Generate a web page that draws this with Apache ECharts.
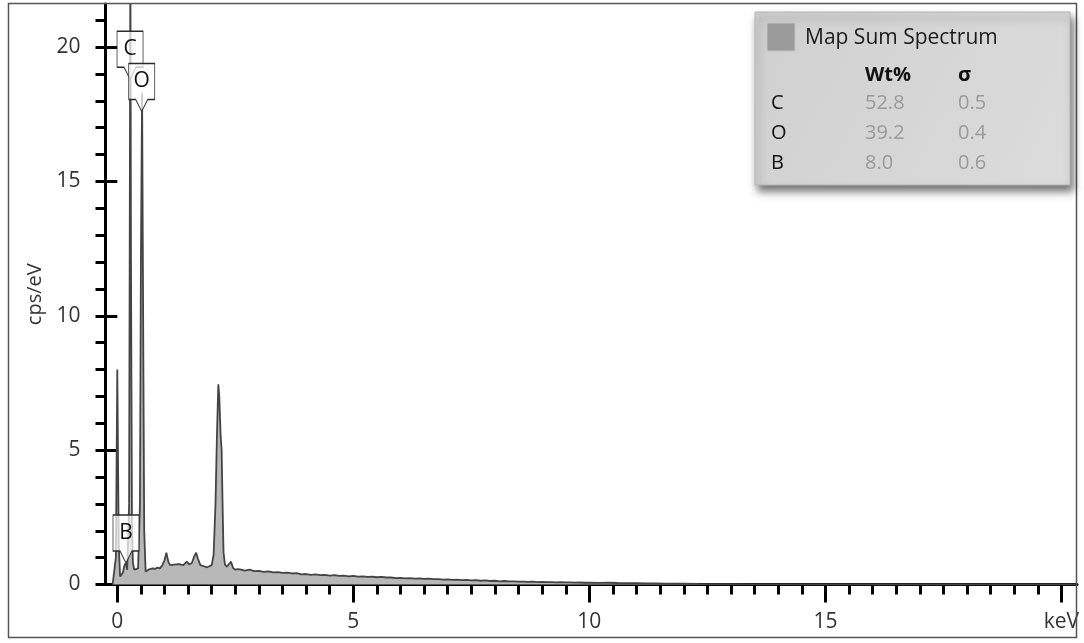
<!DOCTYPE html>
<html>
<head>
<meta charset="utf-8">
<title>Map Sum Spectrum</title>
<script src="https://cdn.jsdelivr.net/npm/echarts@6/dist/echarts.min.js"></script>
<style>
  html, body { margin: 0; padding: 0; background: #fff; }
  #chart { width: 1084px; height: 643px; }
</style>
</head>
<body>
<div id="chart"></div>
<script>
// spectrum (keV, cps/eV)
const energies = [
  -0.1, -0.06, -0.03, 0.0, 0.03, 0.06, 0.09, 0.12, 0.15, 0.18, 0.21, 0.23,
  0.25, 0.265, 0.277, 0.29, 0.31, 0.33, 0.36, 0.40, 0.44, 0.48, 0.50, 0.525,
  0.55, 0.57, 0.60, 0.63, 0.66, 0.70, 0.75, 0.80, 0.85, 0.90, 0.95, 1.00,
  1.04, 1.08, 1.12, 1.20, 1.30, 1.40, 1.47, 1.52, 1.58, 1.63, 1.67, 1.71,
  1.76, 1.80, 1.85, 1.90, 1.95, 2.00, 2.04, 2.08, 2.11, 2.14, 2.16, 2.19,
  2.21, 2.23, 2.25, 2.28, 2.32, 2.36, 2.41, 2.45, 2.50, 2.55,
  2.6, 2.7, 2.8, 2.9, 3.0, 3.1, 3.2, 3.3, 3.4, 3.5, 3.6, 3.7, 3.8, 3.9,
  4.0, 4.1, 4.2, 4.3, 4.4, 4.5, 4.6, 4.7, 4.8, 4.9, 5.0, 5.1, 5.2, 5.3,
  5.4, 5.5, 5.6, 5.7, 5.8, 5.9, 6.0, 6.1, 6.2, 6.3, 6.4, 6.5, 6.6, 6.7,
  6.8, 6.9, 7.0, 7.1, 7.2, 7.3, 7.4, 7.5, 7.6, 7.7, 7.8, 7.9, 8.0, 8.1,
  8.2, 8.3, 8.4, 8.5, 8.6, 8.7, 8.8, 8.9, 9.0, 9.1, 9.2, 9.3, 9.4, 9.5,
  9.6, 9.7, 9.8, 9.9, 10.0, 10.2, 10.4, 10.6, 10.8, 11.0, 11.2, 11.4,
  11.6, 11.8, 12.0, 12.3, 12.6, 13.0, 13.5, 14.0, 15.0, 20.3
];
const counts = [
  0, 0.05, 1.0, 8.0, 1.5, 0.3, 0.25, 0.45, 0.7, 0.8, 0.55, 0.5,
  3.0, 14.0, 24.0, 12.0, 2.5, 0.8, 0.55, 0.5, 0.6, 3.0, 12.0, 18.3,
  9.0, 2.0, 0.48, 0.5, 0.55, 0.56, 0.6, 0.58, 0.63, 0.6, 0.7, 0.9,
  1.18, 0.85, 0.72, 0.74, 0.76, 0.72, 0.85, 0.75, 0.8, 1.05, 1.18, 0.95,
  0.72, 0.66, 0.67, 0.64, 0.68, 0.72, 1.1, 3.0, 5.5, 7.45, 7.0, 5.5,
  5.0, 3.0, 1.2, 0.75, 0.66, 0.7, 0.85, 0.62, 0.55, 0.57,
  0.56, 0.52, 0.55, 0.50, 0.51, 0.47, 0.49, 0.45, 0.46, 0.43, 0.44, 0.41, 0.42, 0.38,
  0.39, 0.36, 0.38, 0.35, 0.36, 0.33, 0.35, 0.32, 0.33, 0.30, 0.32, 0.29, 0.30, 0.28,
  0.29, 0.27, 0.28, 0.26, 0.26, 0.24, 0.25, 0.23, 0.24, 0.22, 0.23, 0.21, 0.22, 0.20,
  0.20, 0.18, 0.19, 0.17, 0.18, 0.16, 0.17, 0.15, 0.16, 0.14, 0.15, 0.13, 0.14, 0.12,
  0.13, 0.12, 0.12, 0.11, 0.11, 0.10, 0.11, 0.09, 0.10, 0.09, 0.09, 0.08, 0.09, 0.08,
  0.08, 0.07, 0.075, 0.065, 0.07, 0.06, 0.065, 0.055, 0.05, 0.05, 0.045, 0.04,
  0.035, 0.03, 0.03, 0.02, 0.015, 0.01, 0.005, 0.003, 0, 0
];

// axis ticks
const xMinorTicks = [];
for (let v = 0; v <= 20; v += 0.5) xMinorTicks.push(v);
const xMajorTicks = [0, 5, 10, 15, 20];
const yMinorTicks = [];
for (let v = 0; v <= 21; v += 1) yMinorTicks.push(v);
const yMajorTicks = [0, 5, 10, 15, 20];

// element markers
const peakNames = ['C', 'O', 'B'];
const peakEnergy = [0.27, 0.517, 0.184];
const peakTipY = [18.8, 17.6, 0.8];

// quantification table
const seriesName = 'Map Sum Spectrum';
const elements = ['C', 'O', 'B'];
const wtPct = ['52.8', '39.2', '8.0'];
const sigma = ['0.5', '0.4', '0.6'];

const FONT = '"Open Sans", "Noto Sans", sans-serif';
const chart = echarts.init(document.getElementById('chart'));

const legendBox = [
  {
    type: 'rect',
    shape: { x: 755, y: 12, width: 315, height: 173 },
    style: {
      fill: new echarts.graphic.LinearGradient(0, 0, 1, 1, [
        { offset: 0, color: '#d0d0d0' },
        { offset: 1, color: '#dcdcdc' }
      ]),
      stroke: '#b4b4b4',
      lineWidth: 1,
      shadowBlur: 8,
      shadowOffsetX: 3,
      shadowOffsetY: 6,
      shadowColor: 'rgba(0,0,0,0.55)'
    },
    z: 10
  },
  {
    type: 'rect',
    shape: { x: 767, y: 23, width: 28, height: 28 },
    style: { fill: '#9b9b9b', stroke: '#c4c4c4', lineWidth: 1 },
    z: 11
  },
  {
    type: 'text', x: 805, y: 38, z: 11,
    style: { text: seriesName, fill: '#1a1a1a', font: '21px ' + FONT, verticalAlign: 'middle' }
  },
  {
    type: 'text', x: 865, y: 75, z: 11,
    style: { text: 'Wt%', fill: '#111', font: 'bold 20px ' + FONT, verticalAlign: 'middle' }
  },
  {
    type: 'text', x: 958, y: 75, z: 11,
    style: { text: 'σ', fill: '#111', font: 'bold 20px ' + FONT, verticalAlign: 'middle' }
  }
];
elements.forEach((el, i) => {
  const y = 103 + i * 30;
  legendBox.push(
    { type: 'text', x: 771, y: y, z: 11,
      style: { text: el, fill: '#111', font: '20px ' + FONT, verticalAlign: 'middle' } },
    { type: 'text', x: 865, y: y, z: 11,
      style: { text: wtPct[i], fill: '#9a9a9a', font: '20px ' + FONT, verticalAlign: 'middle' } },
    { type: 'text', x: 958, y: y, z: 11,
      style: { text: sigma[i], fill: '#9a9a9a', font: '20px ' + FONT, verticalAlign: 'middle' } }
  );
});

const option = {
  animation: false,
  backgroundColor: '#fff',
  textStyle: { fontFamily: FONT },
  grid: { left: 105.5, right: 7, top: 4, bottom: 58.5 },
  xAxis: [
    {
      type: 'value', min: -0.25, max: 20.33,
      axisLine: { show: true, onZero: false, lineStyle: { color: '#000', width: 3 } },
      axisTick: { show: true, customValues: xMinorTicks, length: 10, lineStyle: { color: '#000', width: 3 } },
      axisLabel: { show: false },
      splitLine: { show: false }
    },
    {
      type: 'value', min: -0.25, max: 20.33, position: 'bottom',
      axisLine: { show: false },
      axisTick: { show: true, customValues: xMajorTicks, length: 18, lineStyle: { color: '#000', width: 3 } },
      axisLabel: {
        show: true, customValues: xMajorTicks, margin: 27,
        color: '#333', fontSize: 21, fontFamily: FONT,
        formatter: v => (v === 20 ? 'keV' : String(v))
      },
      splitLine: { show: false }
    }
  ],
  yAxis: [
    {
      type: 'value', min: 0, max: 21.6,
      axisLine: { show: true, onZero: false, lineStyle: { color: '#000', width: 3 } },
      axisTick: { show: true, customValues: yMinorTicks, length: 10, lineStyle: { color: '#000', width: 3 } },
      axisLabel: { show: false },
      splitLine: { show: false }
    },
    {
      type: 'value', min: 0, max: 21.6, position: 'left',
      name: 'cps/eV', nameLocation: 'middle', nameGap: 52,
      nameTextStyle: { color: '#333', fontSize: 20, fontFamily: FONT },
      axisLine: { show: false },
      axisTick: { show: true, customValues: yMajorTicks, length: 20, lineStyle: { color: '#000', width: 3 } },
      axisLabel: { show: true, customValues: yMajorTicks, margin: 25, color: '#333', fontSize: 21, fontFamily: FONT },
      splitLine: { show: false }
    }
  ],
  series: [
    {
      name: seriesName,
      type: 'line',
      xAxisIndex: 0,
      yAxisIndex: 0,
      data: energies.map((e, i) => [e, counts[i]]),
      showSymbol: false,
      smooth: false,
      lineStyle: { color: '#444', width: 1.8 },
      areaStyle: { color: '#b8b8b8', opacity: 1 },
      markPoint: {
        symbol: 'path://M0,0 L26,0 L26,36 L19,36 L13,48 L7,36 L0,36 Z',
        symbolSize: [26, 48],
        symbolOffset: [0, -24],
        itemStyle: { color: 'rgba(255,255,255,0.72)', borderColor: '#2a2a2a', borderWidth: 1 },
        label: { show: true, position: 'inside', offset: [0, -6], color: '#111', fontSize: 21, fontFamily: FONT,
                 formatter: p => p.name },
        data: peakNames.map((n, i) => ({ name: n, coord: [peakEnergy[i], peakTipY[i]] }))
      }
    }
  ],
  graphic: [
    {
      type: 'rect',
      shape: { x: 8.5, y: 3.5, width: 1068, height: 634 },
      style: { fill: 'none', stroke: '#555', lineWidth: 1.5 },
      silent: true,
      z: 5
    }
  ].concat(legendBox)
};

chart.setOption(option);
</script>
</body>
</html>
